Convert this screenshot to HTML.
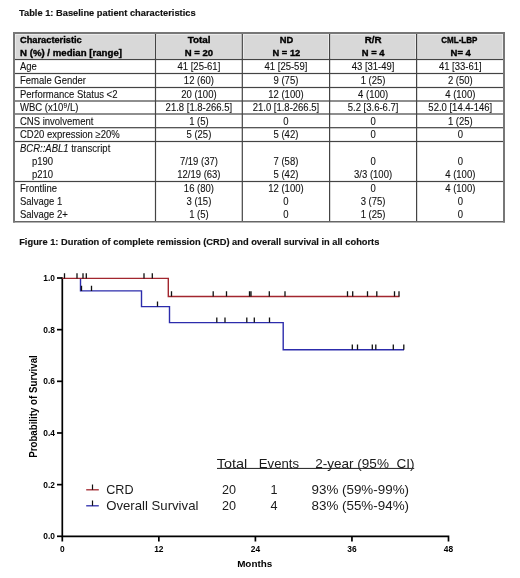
<!DOCTYPE html>
<html><head><meta charset="utf-8"><style>
html,body{margin:0;padding:0;background:#fff;width:520px;height:578px;overflow:hidden}
svg{display:block;font-family:"Liberation Sans", sans-serif;filter:blur(0.3px)}
</style></head><body>
<svg width="520" height="578" viewBox="0 0 520 578">
<rect width="520" height="578" fill="#fff"/>
<text x="19" y="15.8" font-size="9.5" font-weight="bold" textLength="176.60" lengthAdjust="spacingAndGlyphs" stroke="#111" stroke-width="0.15" fill="#111">Table 1: Baseline patient characteristics</text>
<rect x="15" y="34" width="488" height="25" fill="#ececec"/>
<rect x="15.9" y="34.9" width="138.2" height="23.4" fill="#d8d8d8"/>
<rect x="156.9" y="34.9" width="84.2" height="23.4" fill="#d8d8d8"/>
<rect x="243.9" y="34.9" width="84.2" height="23.4" fill="#d8d8d8"/>
<rect x="330.9" y="34.9" width="84.2" height="23.4" fill="#d8d8d8"/>
<rect x="417.9" y="34.9" width="84.2" height="23.4" fill="#d8d8d8"/>
<rect x="14" y="58.9" width="490" height="1.2" fill="#444"/>
<rect x="14" y="72.9" width="490" height="1.2" fill="#444"/>
<rect x="14" y="86.9" width="490" height="1.2" fill="#444"/>
<rect x="14" y="100.4" width="490" height="1.2" fill="#444"/>
<rect x="14" y="113.4" width="490" height="1.2" fill="#444"/>
<rect x="14" y="127.10000000000001" width="490" height="1.2" fill="#444"/>
<rect x="14" y="140.9" width="490" height="1.2" fill="#444"/>
<rect x="14" y="180.9" width="490" height="1.2" fill="#444"/>
<rect x="154.9" y="33" width="1.2" height="189" fill="#444"/>
<rect x="241.70000000000002" y="33" width="1.2" height="189" fill="#444"/>
<rect x="329.0" y="33" width="1.2" height="189" fill="#444"/>
<rect x="416.0" y="33" width="1.2" height="189" fill="#444"/>
<rect x="13" y="32" width="492" height="2" fill="#777"/>
<rect x="13" y="221" width="492" height="1.5" fill="#666"/>
<rect x="13" y="32" width="2" height="190.5" fill="#777"/>
<rect x="503" y="32" width="2" height="190.5" fill="#777"/>
<text x="20" y="42.75" font-size="9.4" font-weight="bold" textLength="61.75" lengthAdjust="spacingAndGlyphs" stroke="#000" stroke-width="0.35" fill="#000">Characteristic</text>
<text x="20" y="55.75" font-size="9.4" font-weight="bold" textLength="102.00" lengthAdjust="spacingAndGlyphs" stroke="#000" stroke-width="0.35" fill="#000">N (%) / median [range]</text>
<text x="199.05" y="42.75" font-size="9.4" font-weight="bold" text-anchor="middle" textLength="22.80" lengthAdjust="spacingAndGlyphs" stroke="#000" stroke-width="0.35" fill="#000">Total</text>
<text x="198.95" y="55.75" font-size="9.4" font-weight="bold" text-anchor="middle" textLength="28.40" lengthAdjust="spacingAndGlyphs" stroke="#000" stroke-width="0.35" fill="#000">N = 20</text>
<text x="286.5" y="42.75" font-size="9.4" font-weight="bold" text-anchor="middle" textLength="13.50" lengthAdjust="spacingAndGlyphs" stroke="#000" stroke-width="0.35" fill="#000">ND</text>
<text x="286.4" y="55.75" font-size="9.4" font-weight="bold" text-anchor="middle" textLength="27.70" lengthAdjust="spacingAndGlyphs" stroke="#000" stroke-width="0.35" fill="#000">N = 12</text>
<text x="373.2" y="42.75" font-size="9.4" font-weight="bold" text-anchor="middle" textLength="16.90" lengthAdjust="spacingAndGlyphs" stroke="#000" stroke-width="0.35" fill="#000">R/R</text>
<text x="373.2" y="55.75" font-size="9.4" font-weight="bold" text-anchor="middle" textLength="22.70" lengthAdjust="spacingAndGlyphs" stroke="#000" stroke-width="0.35" fill="#000">N = 4</text>
<text x="459.3" y="42.75" font-size="9.4" font-weight="bold" text-anchor="middle" textLength="36.10" lengthAdjust="spacingAndGlyphs" stroke="#000" stroke-width="0.35" fill="#000">CML-LBP</text>
<text x="460.7" y="55.75" font-size="9.4" font-weight="bold" text-anchor="middle" textLength="20.30" lengthAdjust="spacingAndGlyphs" stroke="#000" stroke-width="0.35" fill="#000">N= 4</text>
<text x="20" y="69.6" font-size="10.4" textLength="16.90" lengthAdjust="spacingAndGlyphs" stroke="#111" stroke-width="0.1" fill="#111">Age</text>
<text x="198.9" y="69.6" font-size="10.4" text-anchor="middle" textLength="42.78" lengthAdjust="spacingAndGlyphs" stroke="#111" stroke-width="0.1" fill="#111">41 [25-61]</text>
<text x="285.95000000000005" y="69.6" font-size="10.4" text-anchor="middle" textLength="42.78" lengthAdjust="spacingAndGlyphs" stroke="#111" stroke-width="0.1" fill="#111">41 [25-59]</text>
<text x="373.1" y="69.6" font-size="10.4" text-anchor="middle" textLength="42.78" lengthAdjust="spacingAndGlyphs" stroke="#111" stroke-width="0.1" fill="#111">43 [31-49]</text>
<text x="460.3" y="69.6" font-size="10.4" text-anchor="middle" textLength="42.78" lengthAdjust="spacingAndGlyphs" stroke="#111" stroke-width="0.1" fill="#111">41 [33-61]</text>
<text x="20" y="83.6" font-size="10.4" textLength="66.01" lengthAdjust="spacingAndGlyphs" stroke="#111" stroke-width="0.1" fill="#111">Female Gender</text>
<text x="198.9" y="83.6" font-size="10.4" text-anchor="middle" textLength="30.10" lengthAdjust="spacingAndGlyphs" stroke="#111" stroke-width="0.1" fill="#111">12 (60)</text>
<text x="285.95000000000005" y="83.6" font-size="10.4" text-anchor="middle" textLength="24.82" lengthAdjust="spacingAndGlyphs" stroke="#111" stroke-width="0.1" fill="#111">9 (75)</text>
<text x="373.1" y="83.6" font-size="10.4" text-anchor="middle" textLength="24.82" lengthAdjust="spacingAndGlyphs" stroke="#111" stroke-width="0.1" fill="#111">1 (25)</text>
<text x="460.3" y="83.6" font-size="10.4" text-anchor="middle" textLength="24.82" lengthAdjust="spacingAndGlyphs" stroke="#111" stroke-width="0.1" fill="#111">2 (50)</text>
<text x="20" y="97.6" font-size="10.4" textLength="97.43" lengthAdjust="spacingAndGlyphs" stroke="#111" stroke-width="0.1" fill="#111">Performance Status &lt;2</text>
<text x="198.9" y="97.6" font-size="10.4" text-anchor="middle" textLength="35.39" lengthAdjust="spacingAndGlyphs" stroke="#111" stroke-width="0.1" fill="#111">20 (100)</text>
<text x="285.95000000000005" y="97.6" font-size="10.4" text-anchor="middle" textLength="35.39" lengthAdjust="spacingAndGlyphs" stroke="#111" stroke-width="0.1" fill="#111">12 (100)</text>
<text x="373.1" y="97.6" font-size="10.4" text-anchor="middle" textLength="30.10" lengthAdjust="spacingAndGlyphs" stroke="#111" stroke-width="0.1" fill="#111">4 (100)</text>
<text x="460.3" y="97.6" font-size="10.4" text-anchor="middle" textLength="30.10" lengthAdjust="spacingAndGlyphs" stroke="#111" stroke-width="0.1" fill="#111">4 (100)</text>
<text x="20" y="111.1" font-size="10.4" textLength="43.28" lengthAdjust="spacingAndGlyphs" stroke="#111" stroke-width="0.1" fill="#111">WBC (x10</text>
<text x="63.484375" y="107.5" font-size="6.8" textLength="3.62" lengthAdjust="spacingAndGlyphs" stroke="#111" stroke-width="0.1" fill="#111">9</text>
<text x="67.29949218750001" y="111.1" font-size="10.4" textLength="11.09" lengthAdjust="spacingAndGlyphs" stroke="#111" stroke-width="0.1" fill="#111">/L)</text>
<text x="198.9" y="111.1" font-size="10.4" text-anchor="middle" textLength="66.55" lengthAdjust="spacingAndGlyphs" stroke="#111" stroke-width="0.1" fill="#111">21.8 [1.8-266.5]</text>
<text x="285.95000000000005" y="111.1" font-size="10.4" text-anchor="middle" textLength="66.55" lengthAdjust="spacingAndGlyphs" stroke="#111" stroke-width="0.1" fill="#111">21.0 [1.8-266.5]</text>
<text x="373.1" y="111.1" font-size="10.4" text-anchor="middle" textLength="50.70" lengthAdjust="spacingAndGlyphs" stroke="#111" stroke-width="0.1" fill="#111">5.2 [3.6-6.7]</text>
<text x="460.3" y="111.1" font-size="10.4" text-anchor="middle" textLength="63.91" lengthAdjust="spacingAndGlyphs" stroke="#111" stroke-width="0.1" fill="#111">52.0 [14.4-146]</text>
<text x="20" y="124.6" font-size="10.4" textLength="73.39" lengthAdjust="spacingAndGlyphs" stroke="#111" stroke-width="0.1" fill="#111">CNS involvement</text>
<text x="198.9" y="124.6" font-size="10.4" text-anchor="middle" textLength="19.53" lengthAdjust="spacingAndGlyphs" stroke="#111" stroke-width="0.1" fill="#111">1 (5)</text>
<text x="285.95000000000005" y="124.6" font-size="10.4" text-anchor="middle" textLength="5.28" lengthAdjust="spacingAndGlyphs" stroke="#111" stroke-width="0.1" fill="#111">0</text>
<text x="373.1" y="124.6" font-size="10.4" text-anchor="middle" textLength="5.28" lengthAdjust="spacingAndGlyphs" stroke="#111" stroke-width="0.1" fill="#111">0</text>
<text x="460.3" y="124.6" font-size="10.4" text-anchor="middle" textLength="24.82" lengthAdjust="spacingAndGlyphs" stroke="#111" stroke-width="0.1" fill="#111">1 (25)</text>
<text x="20" y="138.1" font-size="10.4" textLength="99.74" lengthAdjust="spacingAndGlyphs" stroke="#111" stroke-width="0.1" fill="#111">CD20 expression ≥20%</text>
<text x="198.9" y="138.1" font-size="10.4" text-anchor="middle" textLength="24.82" lengthAdjust="spacingAndGlyphs" stroke="#111" stroke-width="0.1" fill="#111">5 (25)</text>
<text x="285.95000000000005" y="138.1" font-size="10.4" text-anchor="middle" textLength="24.82" lengthAdjust="spacingAndGlyphs" stroke="#111" stroke-width="0.1" fill="#111">5 (42)</text>
<text x="373.1" y="138.1" font-size="10.4" text-anchor="middle" textLength="5.28" lengthAdjust="spacingAndGlyphs" stroke="#111" stroke-width="0.1" fill="#111">0</text>
<text x="460.3" y="138.1" font-size="10.4" text-anchor="middle" textLength="5.28" lengthAdjust="spacingAndGlyphs" stroke="#111" stroke-width="0.1" fill="#111">0</text>
<text x="20" y="151.6" font-size="10.4" font-style="italic" textLength="48.58" lengthAdjust="spacingAndGlyphs" fill="#111" stroke="#111" stroke-width="0.1">BCR::ABL1</text>
<text x="71.21687499999999" y="151.6" font-size="10.4" textLength="39.07" lengthAdjust="spacingAndGlyphs" stroke="#111" stroke-width="0.1" fill="#111">transcript</text>
<text x="32" y="164.6" font-size="10.4" textLength="21.13" lengthAdjust="spacingAndGlyphs" stroke="#111" stroke-width="0.1" fill="#111">p190</text>
<text x="32" y="177.6" font-size="10.4" textLength="21.13" lengthAdjust="spacingAndGlyphs" stroke="#111" stroke-width="0.1" fill="#111">p210</text>
<text x="198.9" y="164.6" font-size="10.4" text-anchor="middle" textLength="38.02" lengthAdjust="spacingAndGlyphs" stroke="#111" stroke-width="0.1" fill="#111">7/19 (37)</text>
<text x="198.9" y="177.6" font-size="10.4" text-anchor="middle" textLength="43.31" lengthAdjust="spacingAndGlyphs" stroke="#111" stroke-width="0.1" fill="#111">12/19 (63)</text>
<text x="285.95000000000005" y="164.6" font-size="10.4" text-anchor="middle" textLength="24.82" lengthAdjust="spacingAndGlyphs" stroke="#111" stroke-width="0.1" fill="#111">7 (58)</text>
<text x="285.95000000000005" y="177.6" font-size="10.4" text-anchor="middle" textLength="24.82" lengthAdjust="spacingAndGlyphs" stroke="#111" stroke-width="0.1" fill="#111">5 (42)</text>
<text x="373.1" y="164.6" font-size="10.4" text-anchor="middle" textLength="5.28" lengthAdjust="spacingAndGlyphs" stroke="#111" stroke-width="0.1" fill="#111">0</text>
<text x="373.1" y="177.6" font-size="10.4" text-anchor="middle" textLength="38.02" lengthAdjust="spacingAndGlyphs" stroke="#111" stroke-width="0.1" fill="#111">3/3 (100)</text>
<text x="460.3" y="164.6" font-size="10.4" text-anchor="middle" textLength="5.28" lengthAdjust="spacingAndGlyphs" stroke="#111" stroke-width="0.1" fill="#111">0</text>
<text x="460.3" y="177.6" font-size="10.4" text-anchor="middle" textLength="30.10" lengthAdjust="spacingAndGlyphs" stroke="#111" stroke-width="0.1" fill="#111">4 (100)</text>
<text x="20" y="191.6" font-size="10.4" textLength="36.96" lengthAdjust="spacingAndGlyphs" stroke="#111" stroke-width="0.1" fill="#111">Frontline</text>
<text x="20" y="204.6" font-size="10.4" textLength="42.25" lengthAdjust="spacingAndGlyphs" stroke="#111" stroke-width="0.1" fill="#111">Salvage 1</text>
<text x="20" y="217.6" font-size="10.4" textLength="47.80" lengthAdjust="spacingAndGlyphs" stroke="#111" stroke-width="0.1" fill="#111">Salvage 2+</text>
<text x="198.9" y="191.6" font-size="10.4" text-anchor="middle" textLength="30.10" lengthAdjust="spacingAndGlyphs" stroke="#111" stroke-width="0.1" fill="#111">16 (80)</text>
<text x="198.9" y="204.6" font-size="10.4" text-anchor="middle" textLength="24.82" lengthAdjust="spacingAndGlyphs" stroke="#111" stroke-width="0.1" fill="#111">3 (15)</text>
<text x="198.9" y="217.6" font-size="10.4" text-anchor="middle" textLength="19.53" lengthAdjust="spacingAndGlyphs" stroke="#111" stroke-width="0.1" fill="#111">1 (5)</text>
<text x="285.95000000000005" y="191.6" font-size="10.4" text-anchor="middle" textLength="35.39" lengthAdjust="spacingAndGlyphs" stroke="#111" stroke-width="0.1" fill="#111">12 (100)</text>
<text x="285.95000000000005" y="204.6" font-size="10.4" text-anchor="middle" textLength="5.28" lengthAdjust="spacingAndGlyphs" stroke="#111" stroke-width="0.1" fill="#111">0</text>
<text x="285.95000000000005" y="217.6" font-size="10.4" text-anchor="middle" textLength="5.28" lengthAdjust="spacingAndGlyphs" stroke="#111" stroke-width="0.1" fill="#111">0</text>
<text x="373.1" y="191.6" font-size="10.4" text-anchor="middle" textLength="5.28" lengthAdjust="spacingAndGlyphs" stroke="#111" stroke-width="0.1" fill="#111">0</text>
<text x="373.1" y="204.6" font-size="10.4" text-anchor="middle" textLength="24.82" lengthAdjust="spacingAndGlyphs" stroke="#111" stroke-width="0.1" fill="#111">3 (75)</text>
<text x="373.1" y="217.6" font-size="10.4" text-anchor="middle" textLength="24.82" lengthAdjust="spacingAndGlyphs" stroke="#111" stroke-width="0.1" fill="#111">1 (25)</text>
<text x="460.3" y="191.6" font-size="10.4" text-anchor="middle" textLength="30.10" lengthAdjust="spacingAndGlyphs" stroke="#111" stroke-width="0.1" fill="#111">4 (100)</text>
<text x="460.3" y="204.6" font-size="10.4" text-anchor="middle" textLength="5.28" lengthAdjust="spacingAndGlyphs" stroke="#111" stroke-width="0.1" fill="#111">0</text>
<text x="460.3" y="217.6" font-size="10.4" text-anchor="middle" textLength="5.28" lengthAdjust="spacingAndGlyphs" stroke="#111" stroke-width="0.1" fill="#111">0</text>
<text x="19.2" y="244.5" font-size="9.5" font-weight="bold" textLength="360.19" lengthAdjust="spacingAndGlyphs" stroke="#111" stroke-width="0.15" fill="#111">Figure 1: Duration of complete remission (CRD) and overall survival in all cohorts</text>
<path d="M62.3 277.5 V536.3 H448.5 V541.5" fill="none" stroke="#000" stroke-width="1.7"/>
<path d="M57 278.00 H62.3" stroke="#000" stroke-width="1.7"/>
<text x="55" y="280.9" font-size="8.4" font-weight="bold" text-anchor="end" fill="#000">1.0</text>
<path d="M57 329.66 H62.3" stroke="#000" stroke-width="1.7"/>
<text x="55" y="332.55999999999995" font-size="8.4" font-weight="bold" text-anchor="end" fill="#000">0.8</text>
<path d="M57 381.32 H62.3" stroke="#000" stroke-width="1.7"/>
<text x="55" y="384.21999999999997" font-size="8.4" font-weight="bold" text-anchor="end" fill="#000">0.6</text>
<path d="M57 432.98 H62.3" stroke="#000" stroke-width="1.7"/>
<text x="55" y="435.87999999999994" font-size="8.4" font-weight="bold" text-anchor="end" fill="#000">0.4</text>
<path d="M57 484.64 H62.3" stroke="#000" stroke-width="1.7"/>
<text x="55" y="487.53999999999996" font-size="8.4" font-weight="bold" text-anchor="end" fill="#000">0.2</text>
<path d="M57 536.30 H62.3" stroke="#000" stroke-width="1.7"/>
<text x="55" y="539.1999999999999" font-size="8.4" font-weight="bold" text-anchor="end" fill="#000">0.0</text>
<path d="M62.30 536.3 V541.5" stroke="#000" stroke-width="1.7"/>
<path d="M158.85 536.3 V541.5" stroke="#000" stroke-width="1.7"/>
<path d="M255.40 536.3 V541.5" stroke="#000" stroke-width="1.7"/>
<path d="M351.95 536.3 V541.5" stroke="#000" stroke-width="1.7"/>
<text x="62.3" y="551.7" font-size="8.4" font-weight="bold" text-anchor="middle" fill="#000">0</text>
<text x="158.84999999999997" y="551.7" font-size="8.4" font-weight="bold" text-anchor="middle" fill="#000">12</text>
<text x="255.39999999999998" y="551.7" font-size="8.4" font-weight="bold" text-anchor="middle" fill="#000">24</text>
<text x="351.95" y="551.7" font-size="8.4" font-weight="bold" text-anchor="middle" fill="#000">36</text>
<text x="448.49999999999994" y="551.7" font-size="8.4" font-weight="bold" text-anchor="middle" fill="#000">48</text>
<text x="254.7" y="566.7" font-size="9.9" font-weight="bold" text-anchor="middle" fill="#000">Months</text>
<text transform="translate(36.5 457.8) rotate(-90)" x="0" y="0" font-size="10.2" font-weight="bold" textLength="102.6" lengthAdjust="spacingAndGlyphs" fill="#000">Probability of Survival</text>
<path d="M80.5 279 V290.9 H141.5 V306.6 H169.5 V322.6 H283.2 V349.8 H404" fill="none" stroke="#2c2cac" stroke-width="1.4"/>
<path d="M62.3 278.4 H168.3 V296.5 H399.5" fill="none" stroke="#a2262e" stroke-width="1.4"/>
<path d="M81.5 285.7 V290.9 M91.5 285.7 V290.9 M157.5 301.4 V306.6 M216.8 317.4 V322.6 M225 317.4 V322.6 M246.8 317.4 V322.6 M254.3 317.4 V322.6 M269.5 317.4 V322.6 M352.3 344.6 V349.8 M357.5 344.6 V349.8 M372.3 344.6 V349.8 M375.8 344.6 V349.8 M393.3 344.6 V349.8 M403.8 344.6 V349.8 M64.5 273.2 V278.4 M77 273.2 V278.4 M83 273.2 V278.4 M86.3 273.2 V278.4 M144 273.2 V278.4 M152.3 273.2 V278.4 M171.5 291.3 V296.5 M213.2 291.3 V296.5 M226.5 291.3 V296.5 M249.5 291.3 V296.5 M251 291.3 V296.5 M269.3 291.3 V296.5 M285 291.3 V296.5 M347.5 291.3 V296.5 M352.7 291.3 V296.5 M367.5 291.3 V296.5 M376.8 291.3 V296.5 M394.5 291.3 V296.5 M399 291.3 V296.5" fill="none" stroke="#111" stroke-width="1.3"/>
<path d="M86.2 489.8 H98.8" stroke="#a2262e" stroke-width="1.3"/>
<path d="M92.5 484.5 V489.8" stroke="#111" stroke-width="1.2"/>
<path d="M86.2 505.8 H98.8" stroke="#2c2cac" stroke-width="1.3"/>
<path d="M92.5 500.5 V505.8" stroke="#111" stroke-width="1.2"/>
<text x="106.2" y="494.3" font-size="12.6" fill="#1a1a1a">CRD</text>
<text x="106.2" y="510.4" font-size="12.6" textLength="92.2" lengthAdjust="spacingAndGlyphs" fill="#1a1a1a">Overall Survival</text>
<text x="216.8" y="467.5" font-size="12.6" textLength="30.5" lengthAdjust="spacingAndGlyphs" fill="#1a1a1a">Total</text>
<text x="258.8" y="467.5" font-size="12.6" textLength="40.2" lengthAdjust="spacingAndGlyphs" fill="#1a1a1a">Events</text>
<text x="315.2" y="467.5" font-size="12.6" textLength="99.3" lengthAdjust="spacingAndGlyphs" fill="#1a1a1a">2-year (95%&#160; CI)</text>
<rect x="217" y="467.9" width="197.2" height="1.1" fill="#333"/>
<text x="222.0" y="494.3" font-size="12.6" fill="#1a1a1a">20</text>
<text x="222.0" y="510.4" font-size="12.6" fill="#1a1a1a">20</text>
<text x="274" y="494.3" font-size="12.6" text-anchor="middle" fill="#1a1a1a">1</text>
<text x="274" y="510.4" font-size="12.6" text-anchor="middle" fill="#1a1a1a">4</text>
<text x="311.5" y="494.3" font-size="12.6" textLength="97.5" lengthAdjust="spacingAndGlyphs" fill="#1a1a1a">93% (59%-99%)</text>
<text x="311.5" y="510.4" font-size="12.6" textLength="97.5" lengthAdjust="spacingAndGlyphs" fill="#1a1a1a">83% (55%-94%)</text>
</svg>
</body></html>
